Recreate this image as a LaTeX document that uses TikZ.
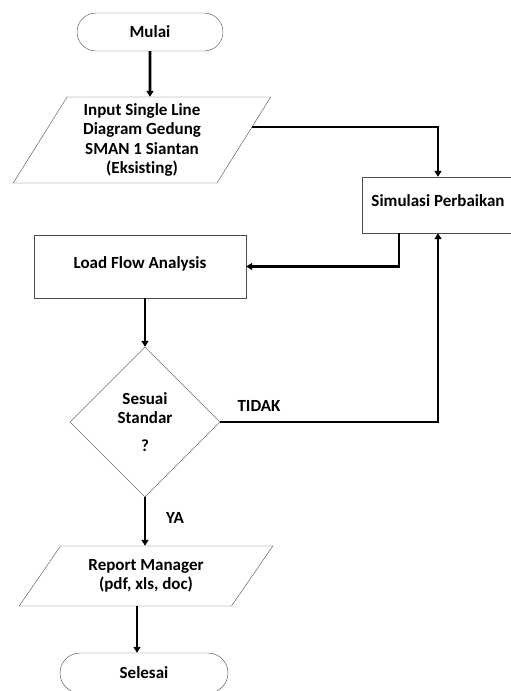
\documentclass[tikz,border=0pt]{standalone}
\usepackage{fontspec}
\setmainfont{Carlito}[Ligatures={NoCommon}]
\usepackage{tikz}
\usetikzlibrary{arrows.meta, calc, shapes.geometric, shapes.misc}
\definecolor{boxGray}{rgb}{0.3, 0.3, 0.3}
\tikzset{
  every node/.style={font=\bfseries\fontsize{17}{19.5}\selectfont},
  terminal/.style={draw=boxGray, rounded rectangle, minimum width=146, minimum height=38, inner sep=0pt},
  iobox/.style={draw=boxGray, trapezium, trapezium left angle=#1, trapezium right angle=180-#1,
    trapezium stretches=true, align=center, inner sep=0pt},
  procbox/.style={draw=boxGray, rectangle, inner sep=0pt, text depth=8pt},
  decision/.style={draw=boxGray, diamond, minimum width=150, minimum height=150, inner sep=0pt, align=center},
  flow/.style={line width=2.6pt, -{Triangle[width=7pt, length=6pt]}}
}
\begin{document}
\begin{tikzpicture}[x=1pt, y=-1pt]
  \useasboundingbox (0,0) rectangle (511,691);
  \node[terminal] (start) at (150,32) {Mulai};
  \node[iobox=60, minimum width=258, minimum height=86] (input) at (142,140)
    {Input Single Line\\Diagram Gedung\\SMAN 1 Siantan\\(Eksisting)};
  \node[procbox, minimum width=152, minimum height=56] (sim) at (438,205) {Simulasi Perbaikan};
  \node[procbox, minimum width=212, minimum height=63] (lf) at (140,266.5) {Load Flow Analysis};
  \node[decision] (dec) at (145,422) {Sesuai\\Standar\\[8pt]?};
  \node[iobox=50, minimum width=254, minimum height=60] (rep) at (146,576)
    {Report Manager\\(pdf, xls, doc)};
  \node[terminal, minimum width=168, minimum height=40] (stop) at (144,673) {Selesai};
  \node (no) at (259,406) {TIDAK};
  \node (yes) at (175,518) {YA};

  \coordinate (inR) at ($ (input.top right corner)!0.35!(input.bottom right corner) $);
  \coordinate (simL) at ($ (sim.south)+(-39,0) $);
  \coordinate (fin) at ($ (stop.north)+(-7,0) $);
  \draw[flow] (start) -- (input.top side -| start);
  \draw[flow] (inR) -| (sim.north);
  \draw[flow] (simL) |- (lf.east);
  \draw[flow] (lf.south -| dec.north) -- (dec.north);
  \draw[flow] (dec.east) -| (sim.south);
  \draw[flow] (dec.south) -- (rep.top side -| dec.south);
  \draw[flow] (rep.south -| fin) -- (fin);
\end{tikzpicture}
\end{document}
